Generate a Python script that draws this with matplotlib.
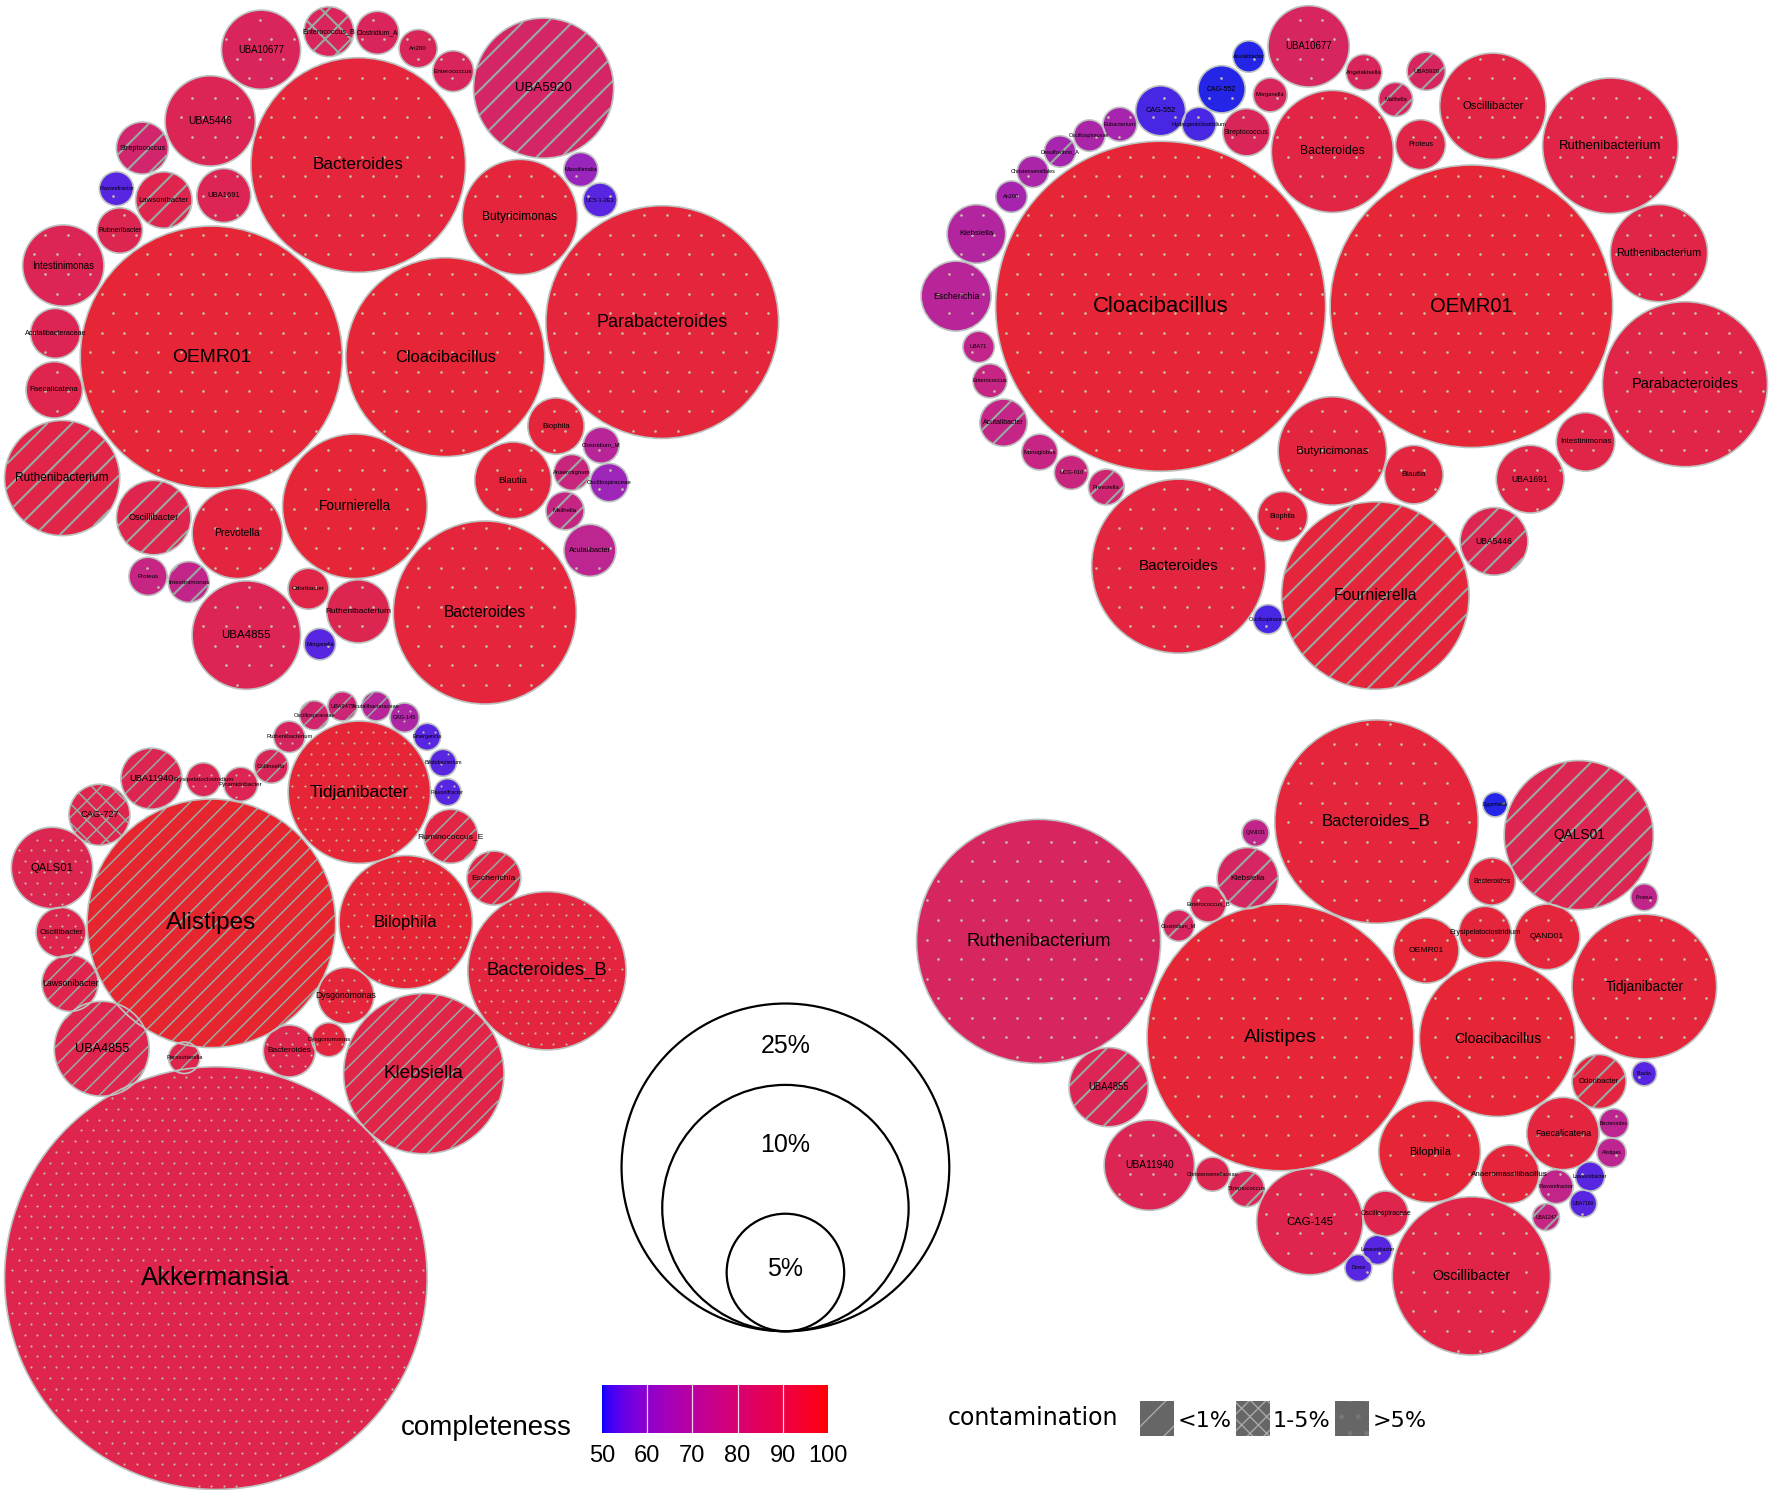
import numpy as np
import matplotlib
matplotlib.use("Agg")
import matplotlib.pyplot as plt
from matplotlib.patches import Circle, Rectangle
from matplotlib.collections import LineCollection
from matplotlib.colors import ListedColormap, Normalize
from matplotlib.cm import ScalarMappable
from matplotlib import font_manager as fm

# ------------------------------------------------------------------ data
# relative abundance (%), completeness (%), contamination class per MAG
c1_genus = ["OEMR01", "Bacteroides", "Cloacibacillus", "Parabacteroides", "Fournierella", "Bacteroides",
            "UBA5920", "Butyricimonas", "Ruthenibacterium", "Prevotella", "UBA4855", "Ruthenibacterium",
            "Odoribacter", "Morganella", "Oscillibacter", "Proteus", "Intestinimonas", "Intestinimonas",
            "Acutalibacteraceae", "Faecalicatena", "Rubneribacter", "Flavonifractor", "Lawsonibacter",
            "Streptococcus", "UBA1691", "UBA5446", "UBA10677", "Enterococcus_B", "Clostridium_A", "An200",
            "Enterococcus", "Massiliimalia", "UC5-1-2E3", "Biophila", "Blautia", "Clostridium_M",
            "Anaerotignum", "Oscillospiraceae", "Mailhella", "Acutalibacter"]
c1_abund = [16.0, 10.73, 9.21, 12.61, 4.87, 7.80, 4.57, 3.09, 3.09, 1.90, 2.74, 0.93, 0.39, 0.23, 1.29,
            0.34, 0.39, 1.54, 0.58, 0.74, 0.48, 0.27, 0.74, 0.63, 0.68, 1.90, 1.46, 0.58, 0.43, 0.34,
            0.39, 0.27, 0.27, 0.74, 1.37, 0.30, 0.30, 0.34, 0.34, 0.63]
c1_comp = [98, 97, 98, 97, 98, 97, 86, 97, 94, 96, 91, 92, 94, 52, 93, 78, 76, 91, 91, 93, 92, 52, 93,
           84, 91, 91, 89, 89, 89, 90, 89, 62, 52, 97, 97, 72, 80, 63, 78, 74]
c1_cont = [">5", ">5", ">5", ">5", ">5", ">5", "<1", ">5", "<1", ">5", ">5", ">5", ">5", ">5", "<1",
           ">5", "<1", ">5", ">5", ">5", ">5", ">5", "<1", "<1", ">5", ">5", ">5", "1-5", ">5", ">5",
           ">5", ">5", ">5", ">5", ">5", ">5", "<1", ">5", "<1", ">5"]

c2_genus = ["Cloacibacillus", "OEMR01", "Parabacteroides", "Ruthenibacterium", "Ruthenibacterium",
            "Oscillibacter", "Bacteroides", "UBA10677", "Proteus", "UBA5920", "Mailhella", "Angelakisella",
            "Morganella", "Streptococcus", "CAG-552", "Acutalibacter", "CAG-552", "Hydrogeniiclostridium",
            "Eubacterium", "Oscillospiraceae", "Desulfovibrio_A", "Christensenellales", "An200",
            "Klebsiella", "Escherichia", "UBA71", "Enterococcus", "Acutalibacter", "Monoglobus", "UCG-010",
            "Prevotella", "Bacteroides", "Fournierella", "Butyricimonas", "Biophila", "Blautia", "UBA1691",
            "Intestinimonas", "UBA5446", "Oscillospiraceae"]
c2_abund = [25.35, 18.58, 6.34, 4.28, 2.20, 2.63, 3.47, 1.54, 0.58, 0.34, 0.27, 0.30, 0.27, 0.52, 0.52,
            0.23, 0.58, 0.27, 0.27, 0.23, 0.23, 0.23, 0.23, 0.80, 1.14, 0.23, 0.27, 0.52, 0.30, 0.27,
            0.30, 7.05, 8.19, 2.74, 0.58, 0.80, 1.07, 0.80, 1.07, 0.20]
c2_comp = [98, 98, 94, 94, 94, 95, 95, 88, 94, 88, 88, 89, 89, 90, 50, 50, 51, 51, 66, 67, 66, 67, 66,
           70, 72, 76, 78, 77, 78, 80, 83, 96, 97, 96, 96, 96, 94, 94, 92, 51]
c2_cont = [">5", ">5", ">5", ">5", ">5", ">5", ">5", ">5", ">5", "<1", "<1", ">5", ">5", ">5", ">5",
           ">5", ">5", ">5", ">5", ">5", "<1", ">5", ">5", ">5", ">5", ">5", ">5", "<1", ">5", ">5",
           "<1", ">5", "<1", ">5", ">5", ">5", ">5", ">5", "<1", ">5"]

c3_genus = ["Akkermansia", "Alistipes", "Tidjanibacter", "Bilophila", "Bacteroides_B", "Klebsiella",
            "Ruminococcus_E", "Escherichia", "Dysgonomonas", "Dysgonomonas", "Bacteroides",
            "Parasutterella", "UBA4855", "Lawsonibacter", "Oscillibacter", "QALS01", "CAG-727",
            "UBA11940", "Erysipelatoclostridium", "Pyramidobacter", "Collinsella", "Ruthenibacterium",
            "Oscillospiraceae", "UBA9475", "Acutalibacteraceae", "CAG-145", "Emergencia",
            "Bifidobacterium", "Flavonifractor"]
c3_abund = [41.58, 14.39, 4.72, 4.14, 5.83, 5.99, 0.68, 0.68, 0.74, 0.27, 0.63, 0.23, 2.10, 0.74, 0.58,
            1.54, 0.87, 0.87, 0.27, 0.27, 0.27, 0.23, 0.20, 0.20, 0.20, 0.20, 0.17, 0.17, 0.17]
c3_comp = [93, 99, 98, 98, 96, 94, 95, 95, 97, 96, 93, 93, 93, 93, 93, 92, 93, 92, 91, 91, 90, 88, 84,
           82, 72, 68, 52, 52, 52]
c3_cont = [">5", "<1", ">5", ">5", ">5", "<1", "<1", "<1", ">5", ">5", ">5", "<1", "<1", "<1", ">5",
           ">5", "1-5", "<1", ">5", ">5", "<1", ">5", "<1", "<1", "<1", ">5", ">5", ">5", ">5"]

c4_genus = ["Alistipes", "Ruthenibacterium", "Bacteroides_B", "QALS01", "Tidjanibacter", "Cloacibacillus",
            "Oscillibacter", "Bilophila", "CAG-145", "UBA11940", "UBA4855", "Faecalicatena",
            "Anaeromassilibacillus", "Odoribacter", "OEMR01", "Erysipelatoclostridium", "QAND01",
            "Bacteroides", "Klebsiella", "QAND01", "Enterococcus_B", "Clostridium_M", "Eggerthella",
            "Proteus", "Blautia", "Bacteroides", "Alistipes", "Lawsonibacter", "UBA7160", "Flavonifractor",
            "UBA1247", "Oscillospiraceae", "Lawsonibacter", "Dorea", "Streptococcus", "Christensenellaceae"]
c4_abund = [16.56, 13.87, 9.63, 5.18, 4.87, 5.66, 5.83, 2.41, 2.63, 1.90, 1.46, 1.22, 0.80, 0.68, 1.00,
            0.63, 1.00, 0.52, 0.87, 0.17, 0.30, 0.23, 0.14, 0.17, 0.14, 0.20, 0.20, 0.20, 0.17, 0.27,
            0.17, 0.48, 0.20, 0.17, 0.30, 0.27]
c4_comp = [98, 88, 97, 92, 97, 98, 94, 98, 93, 91, 91, 96, 97, 96, 98, 97, 97, 96, 87, 76, 91, 88, 50,
           76, 52, 74, 74, 52, 52, 76, 78, 93, 52, 52, 90, 92]
c4_cont = [">5", ">5", ">5", "<1", ">5", ">5", ">5", ">5", ">5", ">5", "<1", ">5", ">5", "<1", ">5",
           ">5", ">5", ">5", "<1", ">5", ">5", "<1", ">5", ">5", ">5", ">5", ">5", ">5", ">5", ">5",
           "<1", ">5", ">5", ">5", "<1", ">5"]

# bubble-pack layout (centres of the packed circles, canvas units)
c1_x = [187, 317, 394, 586, 314, 429, 481, 460, 55, 210, 218, 317, 273, 283, 136, 131, 167, 56, 49, 48,
        106, 103, 145, 126, 198, 186, 231, 291, 334, 370, 401, 514, 531, 492, 454, 532, 506, 539, 500, 522]
c1_y = [316, 146, 316, 285, 448, 542, 78, 192, 423, 472, 562, 541, 521, 570, 458, 510, 515, 235, 295,
        345, 204, 167, 177, 131, 173, 107, 44, 28, 29, 43, 63, 150, 177, 377, 425, 394, 418, 427, 452, 487]
c2_x = [1027, 1302, 1491, 1425, 1468, 1321, 1179, 1158, 1257, 1262, 1235, 1207, 1124, 1103, 1081, 1105,
        1027, 1061, 991, 964, 938, 914, 895, 864, 846, 866, 876, 888, 920, 948, 979, 1043, 1217, 1179,
        1135, 1251, 1354, 1403, 1322, 1122]
c2_y = [271, 271, 340, 129, 224, 94, 134, 41, 128, 63, 88, 64, 84, 117, 79, 50, 98, 110, 110, 120, 134,
        152, 174, 207, 262, 307, 337, 374, 400, 418, 431, 501, 527, 399, 457, 420, 424, 391, 479, 548]
c3_x = [191, 187, 318, 359, 484, 375, 399, 437, 306, 291, 256, 163, 90, 62, 54, 46, 88, 134, 180, 213,
        240, 256, 278, 303, 333, 358, 378, 392, 396]
c3_y = [1131, 817, 701, 816, 859, 950, 740, 777, 881, 920, 930, 936, 928, 870, 825, 768, 721, 689, 690,
        694, 678, 652, 633, 625, 625, 635, 652, 675, 701]
c4_x = [1133, 919, 1218, 1397, 1455, 1325, 1302, 1265, 1159, 1017, 981, 1383, 1336, 1415, 1262, 1314,
        1369, 1320, 1104, 1111, 1069, 1043, 1323, 1455, 1455, 1428, 1426, 1407, 1401, 1377, 1368, 1226,
        1219, 1202, 1103, 1073]
c4_y = [918, 833, 727, 739, 873, 919, 1129, 1019, 1081, 1031, 962, 1003, 1039, 957, 841, 825, 829, 780,
        777, 737, 800, 819, 712, 794, 950, 994, 1020, 1041, 1065, 1050, 1077, 1074, 1106, 1122, 1052, 1039]

legend_pct = [25, 10, 5]
cbar_ticks = [50, 60, 70, 80, 90, 100]
contam_classes = ["<1", "1-5", ">5"]
contam_labels = ["<1%", "1-5%", ">5%"]

# ------------------------------------------------------------------ styles
W = 1568.0
H = W * 1490 / 1772
R_PER_SQRT = 29.0                      # radius scale: r = 29*sqrt(abundance)
legend_r = [145, 109, 52]             # drawn radii of the size key
HATCH_COL = "#98aba3"
DOT_COL = "#c4c2a8"
EDGE_COL = "#bcc4c0"

names = {f.name for f in fm.fontManager.ttflist}
NARROW = "Liberation Sans Narrow" if "Liberation Sans Narrow" in names else None
LABEL_FONT = "Liberation Sans" if "Liberation Sans" in names else "DejaVu Sans"

M_RGB2XYZ = np.array([[0.4124564, 0.3575761, 0.1804375],
                      [0.2126729, 0.7151522, 0.0721750],
                      [0.0193339, 0.1191920, 0.9503041]])
WHITE = np.array([0.95047, 1.0, 1.08883])


def srgb_to_lab(rgb):
    rgb = np.asarray(rgb, float)
    lin = np.where(rgb <= 0.04045, rgb / 12.92, ((rgb + 0.055) / 1.055) ** 2.4)
    xyz = M_RGB2XYZ @ lin / WHITE
    f = np.where(xyz > (6 / 29) ** 3, np.cbrt(xyz), xyz / (3 * (6 / 29) ** 2) + 4 / 29)
    return np.array([116 * f[1] - 16, 500 * (f[0] - f[1]), 200 * (f[1] - f[2])])


def lab_to_srgb(lab):
    L, a, b = lab
    fy = (L + 16) / 116
    f = np.array([fy + a / 500, fy, fy - b / 200])
    t = np.where(f > 6 / 29, f ** 3, 3 * (6 / 29) ** 2 * (f - 4 / 29))
    lin = np.clip(np.linalg.inv(M_RGB2XYZ) @ (t * WHITE), 0, 1)
    return np.clip(np.where(lin <= 0.0031308, 12.92 * lin, 1.055 * lin ** (1 / 2.4) - 0.055), 0, 1)


lab_lo, lab_hi = srgb_to_lab([0, 0, 1]), srgb_to_lab([1, 0, 0])
cmap = ListedColormap([lab_to_srgb(lab_lo + (lab_hi - lab_lo) * t) for t in np.linspace(0, 1, 256)])
norm = Normalize(50, 100)


def fill_color(c):
    base = np.array(cmap(norm(c))[:3])
    return np.clip((0.84 * base + 0.16) * 0.91, 0, 1)


def stripes(cx, cy, r, p, sign):
    step = p * np.sqrt(2)
    c0 = cx + sign * cy
    n = np.array([1.0, sign]) / np.sqrt(2)
    t = np.array([1.0, -sign]) / np.sqrt(2)
    segs = []
    for k in np.arange(np.ceil((c0 - r * np.sqrt(2)) / step), np.floor((c0 + r * np.sqrt(2)) / step) + 1):
        d = (k * step - c0) / np.sqrt(2)
        if abs(d) >= r:
            continue
        h = np.sqrt(r * r - d * d)
        m = np.array([cx, cy]) + d * n
        segs.append([m - h * t, m + h * t])
    return segs


def dots(cx, cy, r, s):
    sy = s * 0.866
    pts = []
    for j in range(int(np.floor((cy - r) / sy)), int(np.ceil((cy + r) / sy)) + 1):
        y = j * sy
        off = (j % 2) * s / 2
        xs = off + np.arange(int(np.floor((cx - r - off) / s)), int(np.ceil((cx + r - off) / s)) + 1) * s
        keep = (xs - cx) ** 2 + (y - cy) ** 2 < (r - 2.5) ** 2
        pts += [(x, y) for x in xs[keep]]
    return pts


fig = plt.figure(figsize=(17.72, 14.90), dpi=100)
ax = fig.add_axes([0, 0, 1, 1])
ax.set_xlim(0, W)
ax.set_ylim(H, 0)
ax.axis("off")

clusters = [
    (c1_genus, c1_abund, c1_comp, c1_cont, c1_x, c1_y, dict(stripe=15.5, dot=20, lw=1.5, ms=1.9, lab=1.0)),
    (c2_genus, c2_abund, c2_comp, c2_cont, c2_x, c2_y, dict(stripe=15.5, dot=20, lw=1.5, ms=1.9, lab=1.0)),
    (c3_genus, c3_abund, c3_comp, c3_cont, c3_x, c3_y, dict(stripe=11.5, dot=11, lw=1.1, ms=1.5, lab=1.3)),
    (c4_genus, c4_abund, c4_comp, c4_cont, c4_x, c4_y, dict(stripe=15.5, dot=20, lw=1.5, ms=1.9, lab=1.0)),
]

for genus, abund, comp, cont, xs, ys, st in clusters:
    segs, pts = [], []
    for g, a, c, k, x, y in zip(genus, abund, comp, cont, xs, ys):
        r = R_PER_SQRT * np.sqrt(a)
        ax.add_patch(Circle((x, y), r, facecolor=fill_color(c), edgecolor="none", zorder=1))
        if k == "<1":
            segs += stripes(x, y, r - 0.5, st["stripe"], +1)
        elif k == "1-5":
            segs += stripes(x, y, r - 0.5, st["stripe"] * 1.05, +1)
            segs += stripes(x, y, r - 0.5, st["stripe"] * 1.05, -1)
        else:
            pts += dots(x, y, r, st["dot"])
        ax.add_patch(Circle((x, y), r, facecolor="none", edgecolor=EDGE_COL, lw=1.2, zorder=3))
        scale = 1.0 + (st["lab"] - 1.0) * min(1.0, r / 60.0)
        fs = float(np.clip(0.84 * r ** 0.59 * scale, 3.0, 18.5))
        ax.text(x, y, g, ha="center", va="center", fontsize=fs, family=LABEL_FONT, color="black", zorder=5)
    if segs:
        ax.add_collection(LineCollection(segs, colors=HATCH_COL, linewidths=st["lw"], zorder=2,
                                         capstyle="butt"))
    if pts:
        p = np.array(pts)
        ax.plot(p[:, 0], p[:, 1], ls="none", marker="o", ms=st["ms"], mfc=DOT_COL, mec="none", zorder=2)

# ------------------------------------------------------------------ size key
key_cx, key_bottom = 695, 1178
pct_font = dict(family=NARROW, fontsize=21) if NARROW else dict(family="Liberation Sans", fontsize=18)
key_text_y = [926, 1013, 1123]
for pct, r, ty in zip(legend_pct, legend_r, key_text_y):
    ax.add_patch(Circle((key_cx, key_bottom - r), r, facecolor="none", edgecolor="black", lw=1.6, zorder=6))
    ax.text(key_cx, ty, f"{pct}%", ha="center", va="center", color="black", zorder=7, **pct_font)

# ------------------------------------------------------------------ colour bar
cax = fig.add_axes([602 / 1772, 1 - 1433 / 1490, 226 / 1772, 48 / 1490])
cb = fig.colorbar(ScalarMappable(norm=norm, cmap=cmap), cax=cax, orientation="horizontal", ticks=cbar_ticks)
cb.outline.set_visible(False)
for v in cbar_ticks[1:-1]:
    cax.axvline(v, color="white", lw=0.9, alpha=0.85)
cax.tick_params(length=0, pad=9)
tick_font = dict(family=NARROW, size=20) if NARROW else dict(family="Liberation Sans", size=17)
for lab in cax.get_xticklabels():
    lab.set_fontfamily(tick_font["family"])
    lab.set_fontsize(tick_font["size"])
comp_font = dict(family=NARROW, fontsize=24) if NARROW else dict(family="Liberation Sans", fontsize=20)
fig.text(486 / 1772, 1 - 1428 / 1490, "completeness", ha="center", va="center", **comp_font)

# ------------------------------------------------------------------ contamination key
ax.text(914, 1255, "contamination", ha="center", va="center", fontsize=17, family="DejaVu Sans")
sq_x = [1009, 1094, 1181]
txt_x = [1042, 1126, 1215]
hatches = ["/", "xx", "."]
hcols = ["#a8a8a8", "#a8a8a8", "#777777"]
for cls, lab, sx, tx, hh, hc in zip(contam_classes, contam_labels, sq_x, txt_x, hatches, hcols):
    ax.add_patch(Rectangle((sx, 1240), 30, 31, facecolor="#666666", edgecolor=hc, lw=0, hatch=hh, zorder=6))
    ax.text(tx, 1257, lab, ha="left", va="center", fontsize=16, family="DejaVu Sans", zorder=7)

fig.savefig("out.png", dpi=100, facecolor="white")
